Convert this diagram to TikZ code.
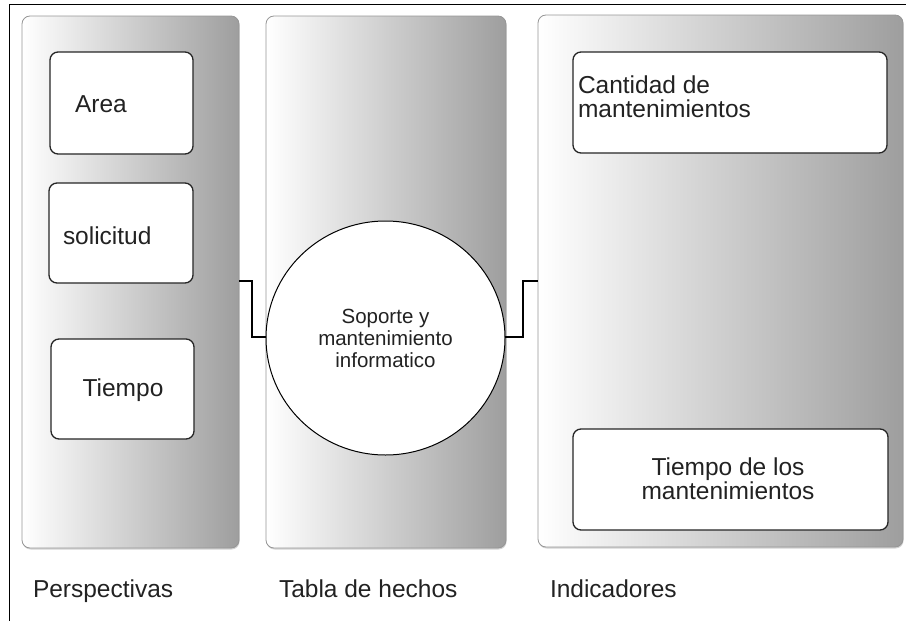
\documentclass[tikz,border=0pt]{standalone}
\usepackage{fontspec}
\setmainfont{Liberation Sans}
\usetikzlibrary{shapes.geometric,shadows}
\definecolor{panelgray}{RGB}{158,158,158}
\definecolor{panelborder}{RGB}{150,150,150}
\definecolor{txtcol}{RGB}{34,34,34}
\begin{document}
\begin{tikzpicture}[x=1pt,y=-1pt,
  panel/.style={draw=panelborder, line width=0.8pt, rounded corners=8pt,
    left color=white, right color=panelgray, inner sep=0pt, outer sep=0pt,
    drop shadow={shadow xshift=0.6pt, shadow yshift=-1.5pt, opacity=0.35}},
  itembox/.style={draw=black!85, line width=1.3pt, fill=white, rounded corners=8pt,
    inner sep=0pt, outer sep=0pt},
  txt/.style={inner sep=0pt, outer sep=0pt, text=txtcol, font=\fontsize{24.5}{24}\selectfont},
  wire/.style={draw=black, line width=1.1pt},
]
\useasboundingbox (0,0) rectangle (906,621);
\draw[line width=1pt] (9,621) -- (9,4) -- (906,4);

% panels
\node[panel, minimum width=217pt, minimum height=532pt] (p1) at (130.5,282) {};
\node[panel, minimum width=240pt, minimum height=532pt] (p2) at (386,282) {};
\node[panel, minimum width=365pt, minimum height=532pt] (p3) at (720.5,281) {};

% boxes
\node[itembox, minimum width=143pt, minimum height=102pt] (area) at (121.5,103) {};
\node[itembox, minimum width=144pt, minimum height=100pt] (soli) at (121,233) {};
\node[itembox, minimum width=143pt, minimum height=100pt] (tiem) at (122.5,389) {};
\node[itembox, minimum width=314pt, minimum height=101pt] (cant) at (730,102.5) {};
\node[itembox, minimum width=315pt, minimum height=101pt] (tmant) at (730.5,479.5) {};

% central circle
\node[ellipse, draw=black, line width=1pt, fill=white, inner sep=0pt, outer sep=0pt,
  minimum width=239pt, minimum height=234pt, align=center, text=txtcol,
  font=\fontsize{20.5}{22}\selectfont] (circ) at (385.5,338) {Soporte y\\mantenimiento\\informatico};

% connectors
\coordinate (c1a) at (252,281);
\coordinate (c1b) at (252,337);
\coordinate (c2a) at (523,281);
\coordinate (c2b) at (523,337);
\draw[wire] (p1.east |- c1a) -- (c1a) -- (c1b) -- (circ.west |- c1b);
\draw[wire] (circ.east |- c2b) -- (c2b) -- (c2a) -- (p3.west |- c2a);

% texts
\node[txt, anchor=base west] (tarea) at (75,112) {Area};
\node[txt, anchor=base west] (tsoli) at (63,244) {solicitud};
\node[txt, anchor=base] (ttiem) at (123,396) {Tiempo};
\node[txt, anchor=base west, align=left] (tcant) at (578,117) {Cantidad de\\mantenimientos};
\node[txt, anchor=base, align=center] (ttm) at (728,499) {Tiempo de los\\mantenimientos};

% labels
\node[txt, anchor=base west] (lper) at (33,597) {Perspectivas};
\node[txt, anchor=base west] (ltab) at (279,597) {Tabla de hechos};
\node[txt, anchor=base west] (lind) at (550,597) {Indicadores};
\end{tikzpicture}
\end{document}
